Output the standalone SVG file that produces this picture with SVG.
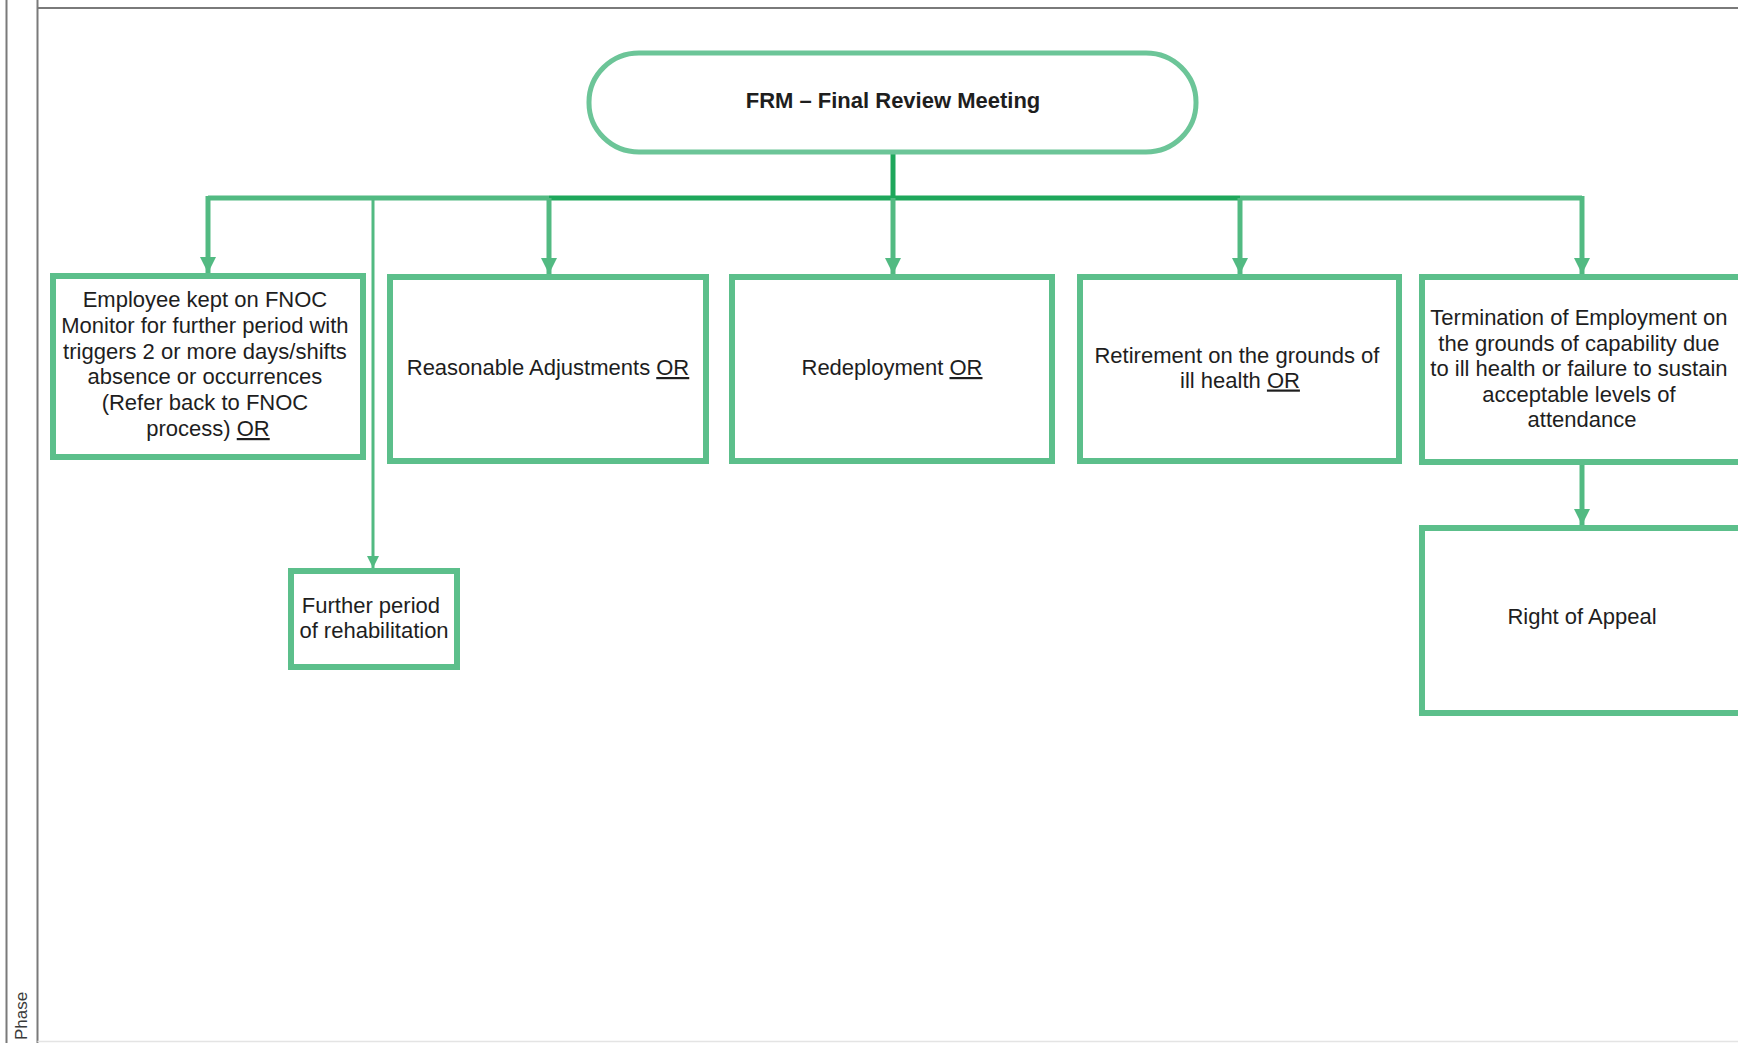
<svg xmlns="http://www.w3.org/2000/svg" width="1738" height="1043" viewBox="0 0 1738 1043">
  <style>
    .frame { stroke: #7a7a7a; stroke-width: 2; fill: none; }
    .box { fill: #ffffff; stroke: #5cbf8b; stroke-width: 6; }
    .pill { fill: #ffffff; stroke: #6cc598; stroke-width: 5; }
    .lbl { font-family: "Liberation Sans", Arial, sans-serif; font-size: 22px; fill: #1e1e1e; text-anchor: middle; }
    .bold { font-weight: bold; }
    .u { text-decoration: underline; }
    .wire { fill: none; stroke: #52ba82; stroke-width: 5; }
    .wire-dark { fill: none; stroke: #1ea75b; stroke-width: 5; }
    .wire-thin { fill: none; stroke: #52ba82; stroke-width: 3; }
    .phase { font-family: "Liberation Sans", Arial, sans-serif; font-size: 17px; fill: #3a3a3a; }
  </style>
  <defs>
    <marker id="arrow" viewBox="0 0 10 10" refX="10" refY="5" markerUnits="userSpaceOnUse" markerWidth="18" markerHeight="16" orient="auto">
      <path d="M0,0 L10,5 L0,10 Z" fill="#52ba82"/>
    </marker>
    <marker id="arrow-small" viewBox="0 0 10 10" refX="10" refY="5" markerUnits="userSpaceOnUse" markerWidth="13" markerHeight="12" orient="auto">
      <path d="M0,0 L10,5 L0,10 Z" fill="#52ba82"/>
    </marker>
  </defs>

  <rect width="1738" height="1043" fill="#ffffff"/>

  <!-- swimlane frame -->
  <g id="frame">
    <line class="frame" x1="6.5" y1="0" x2="6.5" y2="1043"/>
    <line class="frame" x1="37.5" y1="0" x2="37.5" y2="1043"/>
    <line class="frame" x1="37.5" y1="8" x2="1738" y2="8"/>
    <line x1="37.5" y1="1041.5" x2="1738" y2="1041.5" stroke="#e4e4e4" stroke-width="1.5"/>
    <text class="phase" transform="translate(27,1040) rotate(-90)">Phase</text>
  </g>

  <!-- connectors -->
  <g id="connectors">
    <line class="wire" x1="208" y1="198" x2="549" y2="198"/>
    <line class="wire" x1="1240" y1="198" x2="1582" y2="198"/>
    <line class="wire-dark" x1="549" y1="198" x2="1240" y2="198"/>
    <line class="wire-dark" x1="893" y1="152" x2="893" y2="198"/>
    <path class="wire" d="M208,196 L208,273" marker-end="url(#arrow)"/>
    <path class="wire" d="M549,198 L549,274" marker-end="url(#arrow)"/>
    <path class="wire" d="M893,198 L893,274" marker-end="url(#arrow)"/>
    <path class="wire" d="M1240,198 L1240,274" marker-end="url(#arrow)"/>
    <path class="wire" d="M1582,196 L1582,274" marker-end="url(#arrow)"/>
    <path class="wire-thin" d="M373,198 L373,568" marker-end="url(#arrow-small)"/>
    <path class="wire" d="M1582,462 L1582,525" marker-end="url(#arrow)"/>
  </g>

  <g id="frm">
    <rect class="pill" x="589" y="53" width="607" height="99" rx="50" ry="49"/>
    <text class="lbl bold" x="893" y="108">FRM – Final Review Meeting</text>
  </g>

  <g id="fnoc-monitor">
    <rect class="box" x="53" y="276" width="310" height="181"/>
    <text class="lbl" x="208">
      <tspan x="208" y="307">Employee kept on FNOC</tspan>
      <tspan x="208" y="332.8">Monitor for further period with</tspan>
      <tspan x="208" y="358.6">triggers 2 or more days/shifts</tspan>
      <tspan x="208" y="384.4">absence or occurrences</tspan>
      <tspan x="208" y="410.2">(Refer back to FNOC</tspan>
      <tspan x="208" y="436">process) <tspan class="u">OR</tspan></tspan>
    </text>
  </g>

  <g id="reasonable-adjustments">
    <rect class="box" x="390" y="277" width="316" height="184"/>
    <text class="lbl" x="548" y="375">Reasonable Adjustments <tspan class="u">OR</tspan></text>
  </g>

  <g id="redeployment">
    <rect class="box" x="732" y="277" width="320" height="184"/>
    <text class="lbl" x="892" y="375">Redeployment <tspan class="u">OR</tspan></text>
  </g>

  <g id="retirement">
    <rect class="box" x="1080" y="277" width="319" height="184"/>
    <text class="lbl" x="1240">
      <tspan x="1240" y="363">Retirement on the grounds of</tspan>
      <tspan x="1240" y="387.5">ill health <tspan class="u">OR</tspan></tspan>
    </text>
  </g>

  <g id="termination">
    <rect class="box" x="1422" y="277" width="320" height="185"/>
    <text class="lbl" x="1582">
      <tspan x="1582" y="325">Termination of Employment on</tspan>
      <tspan x="1582" y="350.5">the grounds of capability due</tspan>
      <tspan x="1582" y="376">to ill health or failure to sustain</tspan>
      <tspan x="1582" y="401.5">acceptable levels of</tspan>
      <tspan x="1582" y="427">attendance</tspan>
    </text>
  </g>

  <g id="rehabilitation">
    <rect class="box" x="291" y="571" width="166" height="96"/>
    <text class="lbl" x="374">
      <tspan x="374" y="613">Further period</tspan>
      <tspan x="374" y="638">of rehabilitation</tspan>
    </text>
  </g>

  <g id="right-of-appeal">
    <rect class="box" x="1422" y="528" width="320" height="185"/>
    <text class="lbl" x="1582" y="624">Right of Appeal</text>
  </g>
</svg>
